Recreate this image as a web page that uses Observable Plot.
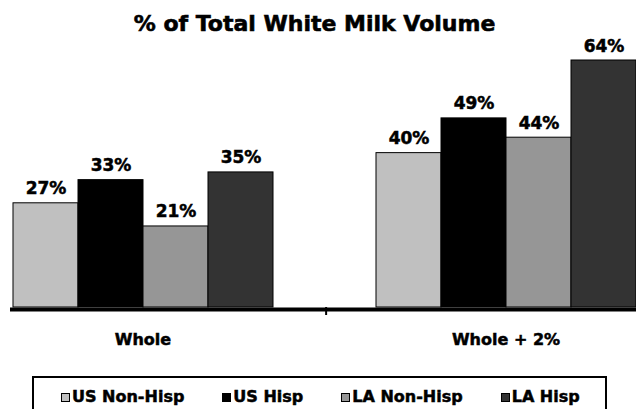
<!DOCTYPE html>
<html>
<head>
<meta charset="utf-8">
<script src="https://cdn.jsdelivr.net/npm/d3@7"></script>
<script src="https://cdn.jsdelivr.net/npm/@observablehq/plot@0.6"></script>
<style>
  html, body { margin: 0; padding: 0; background: #fff; width: 636px; height: 409px; overflow: hidden; }
  #title { box-sizing: border-box; height: 40px; padding-top: 13px; padding-right: 7px; width: 636px;
           font: bold 22px/1 "DejaVu Sans", sans-serif; text-align: center; color: #000; -webkit-text-stroke: 0.6px #000; }
  #chart svg { display: block; }
  #chart svg text { stroke: #000; stroke-width: 0.5px; }
  #legend { box-sizing: border-box; margin: 16px 0 0 32px; width: 575px; height: 50px; border: 2px solid #000;
            display: flex; gap: 38px; padding: 11px 0 0 27px; font: bold 16px/16px "DejaVu Sans", sans-serif; color: #000;
            -webkit-text-stroke: 0.5px #000; }
  .item { display: flex; align-items: baseline; white-space: nowrap; }
  .sw { display: inline-block; width: 7px; height: 7px; border: 1px solid #000; margin-right: 2px; }
</style>
</head>
<body>
<div id="title">% of Total White Milk Volume</div>
<div id="chart"></div>
<div id="legend"></div>
<script>
// ---- data ----
const groups = ["Whole", "Whole + 2%"];
const series = ["US Non-Hisp", "US Hisp", "LA Non-Hisp", "LA Hisp"];
const wholeValues = [27, 33, 21, 35];
const wholePlus2Values = [40, 49, 44, 64];
const seriesColors = ["#c0c0c0", "#000000", "#969696", "#333333"];

const valuesByGroup = [wholeValues, wholePlus2Values];
const rows = groups.flatMap((g, gi) => series.map((s, si) => ({group: g, series: s, value: valuesByGroup[gi][si]})));

// ---- layout ----
const fxRange = [-39, 687];
const gapPad = 0.2755;
const step = (fxRange[1] - fxRange[0]) / groups.length;
const halfGap = step * gapPad / 2;
const seriesBand = step * (1 - gapPad) / series.length;

const chart = Plot.plot({
  width: 636,
  height: 320,
  marginTop: 20,
  marginBottom: 53,
  marginLeft: 10,
  marginRight: 0,
  style: "font: bold 16px 'DejaVu Sans', sans-serif; overflow: visible; background: white; color: black;",
  fx: {domain: groups, range: fxRange, paddingInner: gapPad, paddingOuter: gapPad / 2, axis: "bottom", label: null, tickSize: 0, tickPadding: 26},
  x: {domain: series, padding: 0, axis: null},
  y: {domain: [0, 64], axis: null},
  color: {domain: series, range: seriesColors},
  marks: [
    Plot.barY(rows, {fx: "group", x: "series", y: "value", fill: "series", stroke: "#000", strokeWidth: 1}),
    Plot.text(rows, {fx: "group", x: "series", y: "value", text: d => d.value + "%", lineAnchor: "bottom", dy: -9,
                     fontSize: 17, fontWeight: "bold", fill: "#000"}),
    Plot.ruleY([{group: groups[0]}], {fx: "group", y: () => 0, stroke: "#000", strokeWidth: 4, dy: 2, insetLeft: -1, insetRight: -halfGap}),
    Plot.ruleY([{group: groups[1]}], {fx: "group", y: () => 0, stroke: "#000", strokeWidth: 4, dy: 2, insetLeft: -halfGap, insetRight: -halfGap}),
    Plot.ruleX([{group: groups[1]}], {fx: "group", x: () => series[0], y1: () => 0, y2: () => 0, insetBottom: -8,
                                       dx: -(seriesBand / 2 + halfGap), stroke: "#000", strokeWidth: 2})
  ]
});
document.getElementById("chart").appendChild(chart);

// ---- legend ----
const legend = document.getElementById("legend");
series.forEach((s, i) => {
  const item = document.createElement("div");
  item.className = "item";
  const sw = document.createElement("span");
  sw.className = "sw";
  sw.style.background = seriesColors[i];
  item.appendChild(sw);
  item.appendChild(document.createTextNode(s));
  legend.appendChild(item);
});
</script>
</body>
</html>
